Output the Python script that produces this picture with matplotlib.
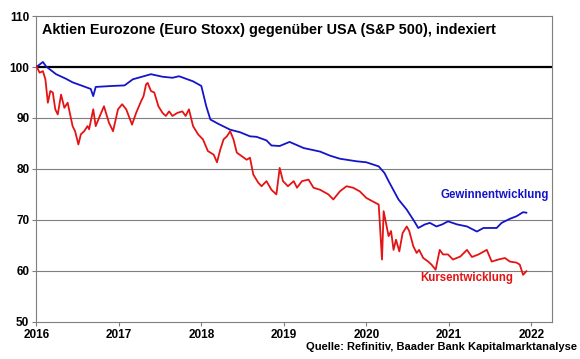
import matplotlib
matplotlib.use("Agg")
import matplotlib.pyplot as plt

plt.rcParams["font.family"] = ["Liberation Sans", "DejaVu Sans"]

# Gewinnentwicklung (blue), decimal years / index
gewinn_t = [2016.00, 2016.04, 2016.08, 2016.12, 2016.24, 2016.36, 2016.44, 2016.56, 2016.66,
            2016.69, 2016.72, 2016.93, 2017.07, 2017.17, 2017.39, 2017.53, 2017.65, 2017.73,
            2017.90, 2018.00, 2018.06, 2018.11, 2018.20, 2018.35, 2018.47, 2018.59, 2018.67,
            2018.79, 2018.85, 2018.95, 2019.07, 2019.24, 2019.44, 2019.56, 2019.68, 2019.88,
            2020.00, 2020.15, 2020.22, 2020.28, 2020.39, 2020.49, 2020.57, 2020.63, 2020.71,
            2020.77, 2020.85, 2020.92, 2020.99, 2021.10, 2021.22, 2021.34, 2021.42, 2021.58,
            2021.64, 2021.74, 2021.82, 2021.90, 2021.94]
gewinn_v = [100.0, 100.5, 101.0, 100.1, 98.6, 97.7, 97.0, 96.3, 95.7,
            94.3, 96.1, 96.3, 96.4, 97.6, 98.6, 98.1, 97.9, 98.2,
            97.2, 96.3, 92.3, 89.7, 88.9, 87.7, 87.2, 86.4, 86.3,
            85.6, 84.6, 84.5, 85.3, 84.1, 83.4, 82.6, 82.0, 81.5,
            81.3, 80.5, 79.2, 77.3, 74.0, 72.0, 70.0, 68.4, 69.1,
            69.4, 68.7, 69.1, 69.7, 69.1, 68.7, 67.7, 68.4, 68.4,
            69.4, 70.2, 70.7, 71.5, 71.4]

# Kursentwicklung (red)
kurs_t = [2016.00, 2016.04, 2016.08, 2016.11, 2016.14, 2016.17, 2016.20, 2016.23, 2016.26,
          2016.30, 2016.34, 2016.38, 2016.44, 2016.47, 2016.51, 2016.54, 2016.58, 2016.62,
          2016.64, 2016.69, 2016.72, 2016.76, 2016.82, 2016.88, 2016.93, 2016.99, 2017.04,
          2017.09, 2017.16, 2017.21, 2017.27, 2017.30, 2017.33, 2017.35, 2017.39, 2017.43,
          2017.48, 2017.53, 2017.57, 2017.61, 2017.65, 2017.71, 2017.77, 2017.81, 2017.85,
          2017.90, 2017.96, 2018.02, 2018.08, 2018.15, 2018.19, 2018.23, 2018.27, 2018.31,
          2018.35, 2018.39, 2018.43, 2018.49, 2018.55, 2018.59, 2018.63, 2018.69, 2018.73,
          2018.79, 2018.85, 2018.91, 2018.95, 2018.99, 2019.05, 2019.12, 2019.16, 2019.22,
          2019.30, 2019.36, 2019.44, 2019.54, 2019.60, 2019.68, 2019.76, 2019.84, 2019.92,
          2020.00, 2020.08, 2020.15, 2020.19, 2020.21, 2020.27, 2020.30, 2020.33, 2020.36,
          2020.40, 2020.44, 2020.49, 2020.52, 2020.57, 2020.61, 2020.64, 2020.69, 2020.75,
          2020.79, 2020.84, 2020.89, 2020.93, 2020.99, 2021.05, 2021.14, 2021.22, 2021.28,
          2021.36, 2021.46, 2021.52, 2021.60, 2021.68, 2021.74, 2021.82, 2021.86, 2021.90,
          2021.94]
kurs_v = [100.2, 98.9, 99.2, 97.6, 93.0, 95.3, 95.0, 91.7, 90.7,
          94.6, 92.0, 93.0, 88.4, 87.4, 84.8, 86.8, 87.4, 88.4,
          87.8, 91.7, 88.4, 90.0, 92.3, 89.1, 87.4, 91.7, 92.7,
          91.7, 88.7, 91.0, 93.3, 94.3, 96.6, 96.9, 95.3, 95.0,
          92.3, 91.0, 90.4, 91.3, 90.4, 91.0, 91.3, 90.4, 91.7,
          88.4, 86.8, 85.8, 83.5, 82.8, 81.3, 83.8, 85.8, 86.4,
          87.4, 85.8, 83.2, 82.5, 81.8, 82.2, 78.9, 77.3, 76.6,
          77.6, 75.9, 75.0, 80.2, 77.6, 76.6, 77.6, 76.3, 77.6,
          77.9, 76.3, 75.9, 75.0, 74.0, 75.6, 76.6, 76.3, 75.6,
          74.3, 73.6, 73.0, 62.2, 71.7, 66.8, 67.8, 64.1, 66.1,
          63.8, 67.4, 68.7, 67.8, 64.8, 63.5, 64.1, 62.5, 61.8,
          61.2, 60.2, 64.1, 63.2, 63.2, 62.2, 62.8, 64.1, 62.7,
          63.2, 64.1, 61.8, 62.2, 62.5, 61.8, 61.6, 61.2, 59.2,
          59.9]

years = [2016, 2017, 2018, 2019, 2020, 2021, 2022]
y_ticks = [50, 60, 70, 80, 90, 100, 110]

BLUE = "#1414C8"
RED = "#E41414"
GRID = "#7F7F7F"

fig = plt.figure(figsize=(5.8, 3.59), dpi=100)
ax = fig.add_axes([0.0626, 0.104, 0.8886, 0.851])

for y in y_ticks:
    if y == 100:
        ax.axhline(y, color="black", lw=1.6, zorder=2)
    elif y not in (50, 110):
        ax.axhline(y, color=GRID, lw=0.8, zorder=1)

ax.plot(gewinn_t, gewinn_v, color=BLUE, lw=1.3, zorder=3)
ax.plot(kurs_t, kurs_v, color=RED, lw=1.3, zorder=3)

ax.set_xlim(2016, 2022.247)
ax.set_ylim(50, 110)
ax.set_xticks(years)
ax.set_xticklabels([str(y) for y in years], fontweight="bold", fontsize=8.5)
ax.set_yticks(y_ticks)
ax.set_yticklabels([str(y) for y in y_ticks], fontweight="bold", fontsize=8.5)
ax.tick_params(axis="both", length=3, color=GRID, width=0.8, pad=2)
for s in ax.spines.values():
    s.set_color(GRID)
    s.set_linewidth(0.8)

ax.text(0.012, 0.955, "Aktien Eurozone (Euro Stoxx) gegenüber USA (S&P 500), indexiert",
        transform=ax.transAxes, fontsize=10.4, fontweight="bold", va="center", ha="left")
ax.text(2021.554, 74.8, "Gewinnentwicklung", color=BLUE, fontsize=8.3,
        fontweight="bold", ha="center", va="center")
ax.text(2021.212, 58.6, "Kursentwicklung", color=RED, fontsize=8.3,
        fontweight="bold", ha="center", va="center")

fig.text(0.995, 0.034, "Quelle: Refinitiv, Baader Bank Kapitalmarktanalyse",
         fontsize=8, fontweight="bold", ha="right", va="center")

fig.savefig("out.png", dpi=100)
